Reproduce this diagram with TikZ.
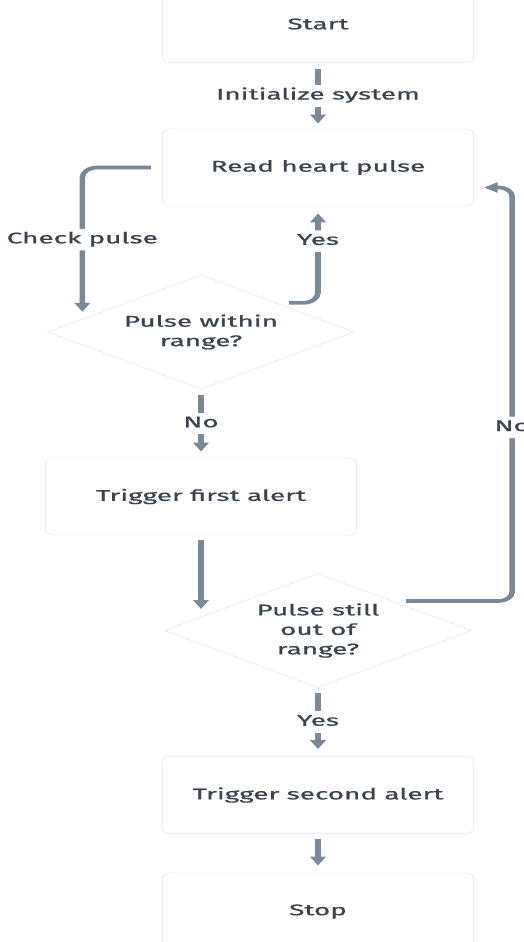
\documentclass[tikz,border=0pt]{standalone}
\usepackage{fontspec}
\setmainfont[FakeStretch=1.2, FakeBold=0.6]{Fira Sans}
\usetikzlibrary{shapes.geometric,arrows.meta,calc}
\definecolor{edgec}{HTML}{7B8898}
\definecolor{txt}{HTML}{3A434E}
\definecolor{bord}{HTML}{ECEEF1}
\begin{document}
\begin{tikzpicture}
\useasboundingbox[fill=white] (0,0) rectangle (523pt,-942pt);
\begin{scope}[transform canvas={xscale=1.5}, x=0.666667pt, y=-1pt,
  base/.style={font=\fontsize{15.5}{19.5}\selectfont, text=txt},
  box/.style={base, draw=bord, fill=white, rounded corners=5pt, minimum width=207.3pt, minimum height=77pt, line width=0.8pt},
  dec/.style={base, diamond, aspect=1.8, draw=bord, fill=white, minimum width=204.7pt, minimum height=114pt, inner sep=0pt, align=center, line width=0.8pt},
  arr/.style={draw=edgec, line width=3.7pt, -{Triangle[width=10pt,length=9pt]}},
  lbl/.style={base, fill=white, inner xsep=2pt, inner ysep=3.5pt, text height=11pt, text depth=3.5pt}]

\node[box] (start) at (318,24) {Start};
\node[box] (read) at (318,167.5) {Read heart pulse};
\node[dec] (d1) at (201,332) {Pulse within\\range?};
\node[box] (t1) at (201,496.5) {Trigger first alert};
\node[dec] (d2) at (318,630.5) {Pulse still\\out of\\range?};
\node[box] (t2) at (318,795) {Trigger second alert};
\node[box] (stop) at (318,911.5) {Stop};

\coordinate (d2in) at ($(d2.west)!0.235!(d2.north)$);

\draw[arr, shorten <=6pt, shorten >=5pt] (start) -- node[lbl]{Initialize system} (read);
\draw[arr, rounded corners=10pt] ([xshift=-7.33pt]read.west) -| node[lbl,pos=0.75]{Check pulse} ([yshift=7pt]$(d1.west)!0.23!(d1.north)$);
\draw[arr, rounded corners=10pt, shorten >=7pt] ([yshift=4.5pt]$(d1.north)!0.57!(d1.east)$) -| node[lbl,pos=0.82]{Yes} (read.south);
\draw[arr, shorten <=6pt, shorten >=6pt] (d1) -- node[lbl]{No} (t1);
\draw[arr, shorten <=5pt, shorten >=8pt] (t1.south) -- (t1.south |- d2in);
\draw[arr, rounded corners=9pt, shorten >=6.7pt] ([yshift=5pt]$(d2.north)!0.572!(d2.east)$) -- ++(106,0) |- node[lbl,pos=0.21]{No} ([yshift=-20pt]read.east);
\draw[arr, shorten <=5pt, shorten >=7pt] (d2) -- node[lbl]{Yes} (t2);
\draw[arr, shorten <=5pt, shorten >=7pt] (t2) -- (stop);
\end{scope}
\end{tikzpicture}
\end{document}
